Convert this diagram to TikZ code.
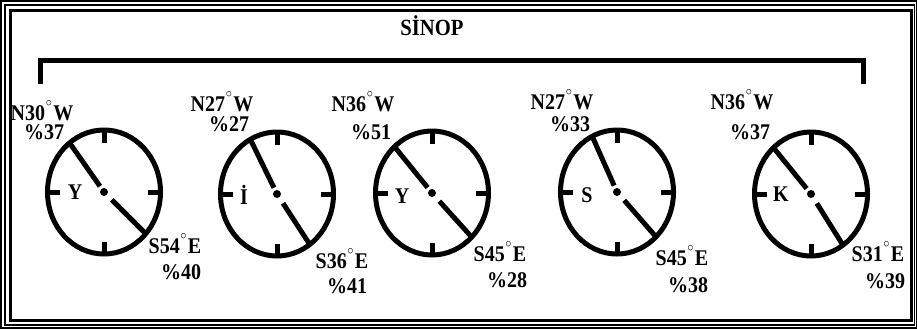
\documentclass[tikz,border=0pt]{standalone}
\usepackage{fontspec}
\usepackage{graphicx}
\setmainfont{Liberation Serif}
\usetikzlibrary{shapes.geometric,calc}
% small raised degree ring (kept out of the line height)
\newcommand\dg{\kern0.5pt\smash{\raisebox{0.6em}{\fontsize{9}{9}\selectfont$\circ$}}\kern1pt}
% slightly tall lettering
\newcommand\tall[1]{\scalebox{1}[1.12]{#1}}
\begin{document}
\begin{tikzpicture}[x=0.75pt,y=-0.75pt,
  dial/.style={draw,ellipse,line width=3.75pt,inner sep=0pt,outer sep=0pt,
               minimum width=84.75pt,minimum height=93pt},
  tickmark/.style={line width=3.75pt},
  hand/.style={line width=3.75pt},
  lbl/.style={inner sep=0pt,font=\fontsize{15}{15}\selectfont\bfseries},
  ttl/.style={inner sep=0pt,font=\fontsize{15.5}{15.5}\selectfont\bfseries},
  bracket/.style={line width=3.75pt}]
\useasboundingbox (0,0) rectangle (917,329);

% page frame: two thin lines outside a thick one
\draw[line width=0.9pt] (1,1) rectangle (916.3,328);
\draw[line width=0.9pt] (5,5) rectangle (914.8,325);
\draw[line width=2.4pt] (10.5,10.5) rectangle (911.7,320.7);

% title and bracket
\node[ttl] (title) at (432,25.5) {\tall{SİNOP}};
\coordinate (bl) at (40.5,84);
\coordinate (br) at (863,84);
\draw[bracket] (bl) |- (863,60.5) -- (br);

% dials: position, NW hand angle, SE hand angle
\foreach \i/\cx/\cy/\nw/\se in {1/104/192/125/-45, 2/277/194/116/-57,
    3/432/193/129/-48, 4/617/192/114/-49, 5/811/194/129/-58}{
  \node[dial] (c\i) at (\cx,\cy) {};
  \draw[tickmark] (c\i.north) -- ++(0,12.5);
  \draw[tickmark] (c\i.south) -- ++(0,-12.5);
  \draw[tickmark] (c\i.west) -- ++(12.5,0);
  \draw[tickmark] (c\i.east) -- ++(-12.5,0);
  \draw[hand] (c\i.\nw) -- ($(c\i.center)!5.25pt!(c\i.\nw)$);
  \draw[hand] ($(c\i.center)!8.25pt!(c\i.\se)$) -- (c\i.\se);
  \fill (c\i.center) circle[radius=3pt];
}

% dial letters
\node[lbl] (k1) at (75,192) {\tall{Y}};
\node[lbl] (k2) at (244,195) {\tall{İ}};
\node[lbl] (k3) at (402,196) {\tall{Y}};
\node[lbl] (k4) at (587,195) {\tall{S}};
\node[lbl] (k5) at (781,194) {\tall{K}};

% NW directions and percentages
\node[lbl] (n1) at (42,113) {\tall{N30\dg W}};
\node[lbl] (p1) at (44,132) {\tall{\%37}};
\node[lbl] (n2) at (222,104) {\tall{N27\dg W}};
\node[lbl] (p2) at (229,124) {\tall{\%27}};
\node[lbl] (n3) at (363,104) {\tall{N36\dg W}};
\node[lbl] (p3) at (371,132) {\tall{\%51}};
\node[lbl] (n4) at (562,102) {\tall{N27\dg W}};
\node[lbl] (p4) at (570,124) {\tall{\%33}};
\node[lbl] (n5) at (742,102) {\tall{N36\dg W}};
\node[lbl] (p5) at (750,132) {\tall{\%37}};

% SE directions and percentages
\node[lbl] (s1) at (175,246) {\tall{S54\dg E}};
\node[lbl] (q1) at (181,272) {\tall{\%40}};
\node[lbl] (s2) at (342,261) {\tall{S36\dg E}};
\node[lbl] (q2) at (347,286) {\tall{\%41}};
\node[lbl] (s3) at (500,254) {\tall{S45\dg E}};
\node[lbl] (q3) at (507,280) {\tall{\%28}};
\node[lbl] (s4) at (682,258) {\tall{S45\dg E}};
\node[lbl] (q4) at (688,285) {\tall{\%38}};
\node[lbl] (s5) at (878,254) {\tall{S31\dg E}};
\node[lbl] (q5) at (885,281) {\tall{\%39}};
\end{tikzpicture}
\end{document}
